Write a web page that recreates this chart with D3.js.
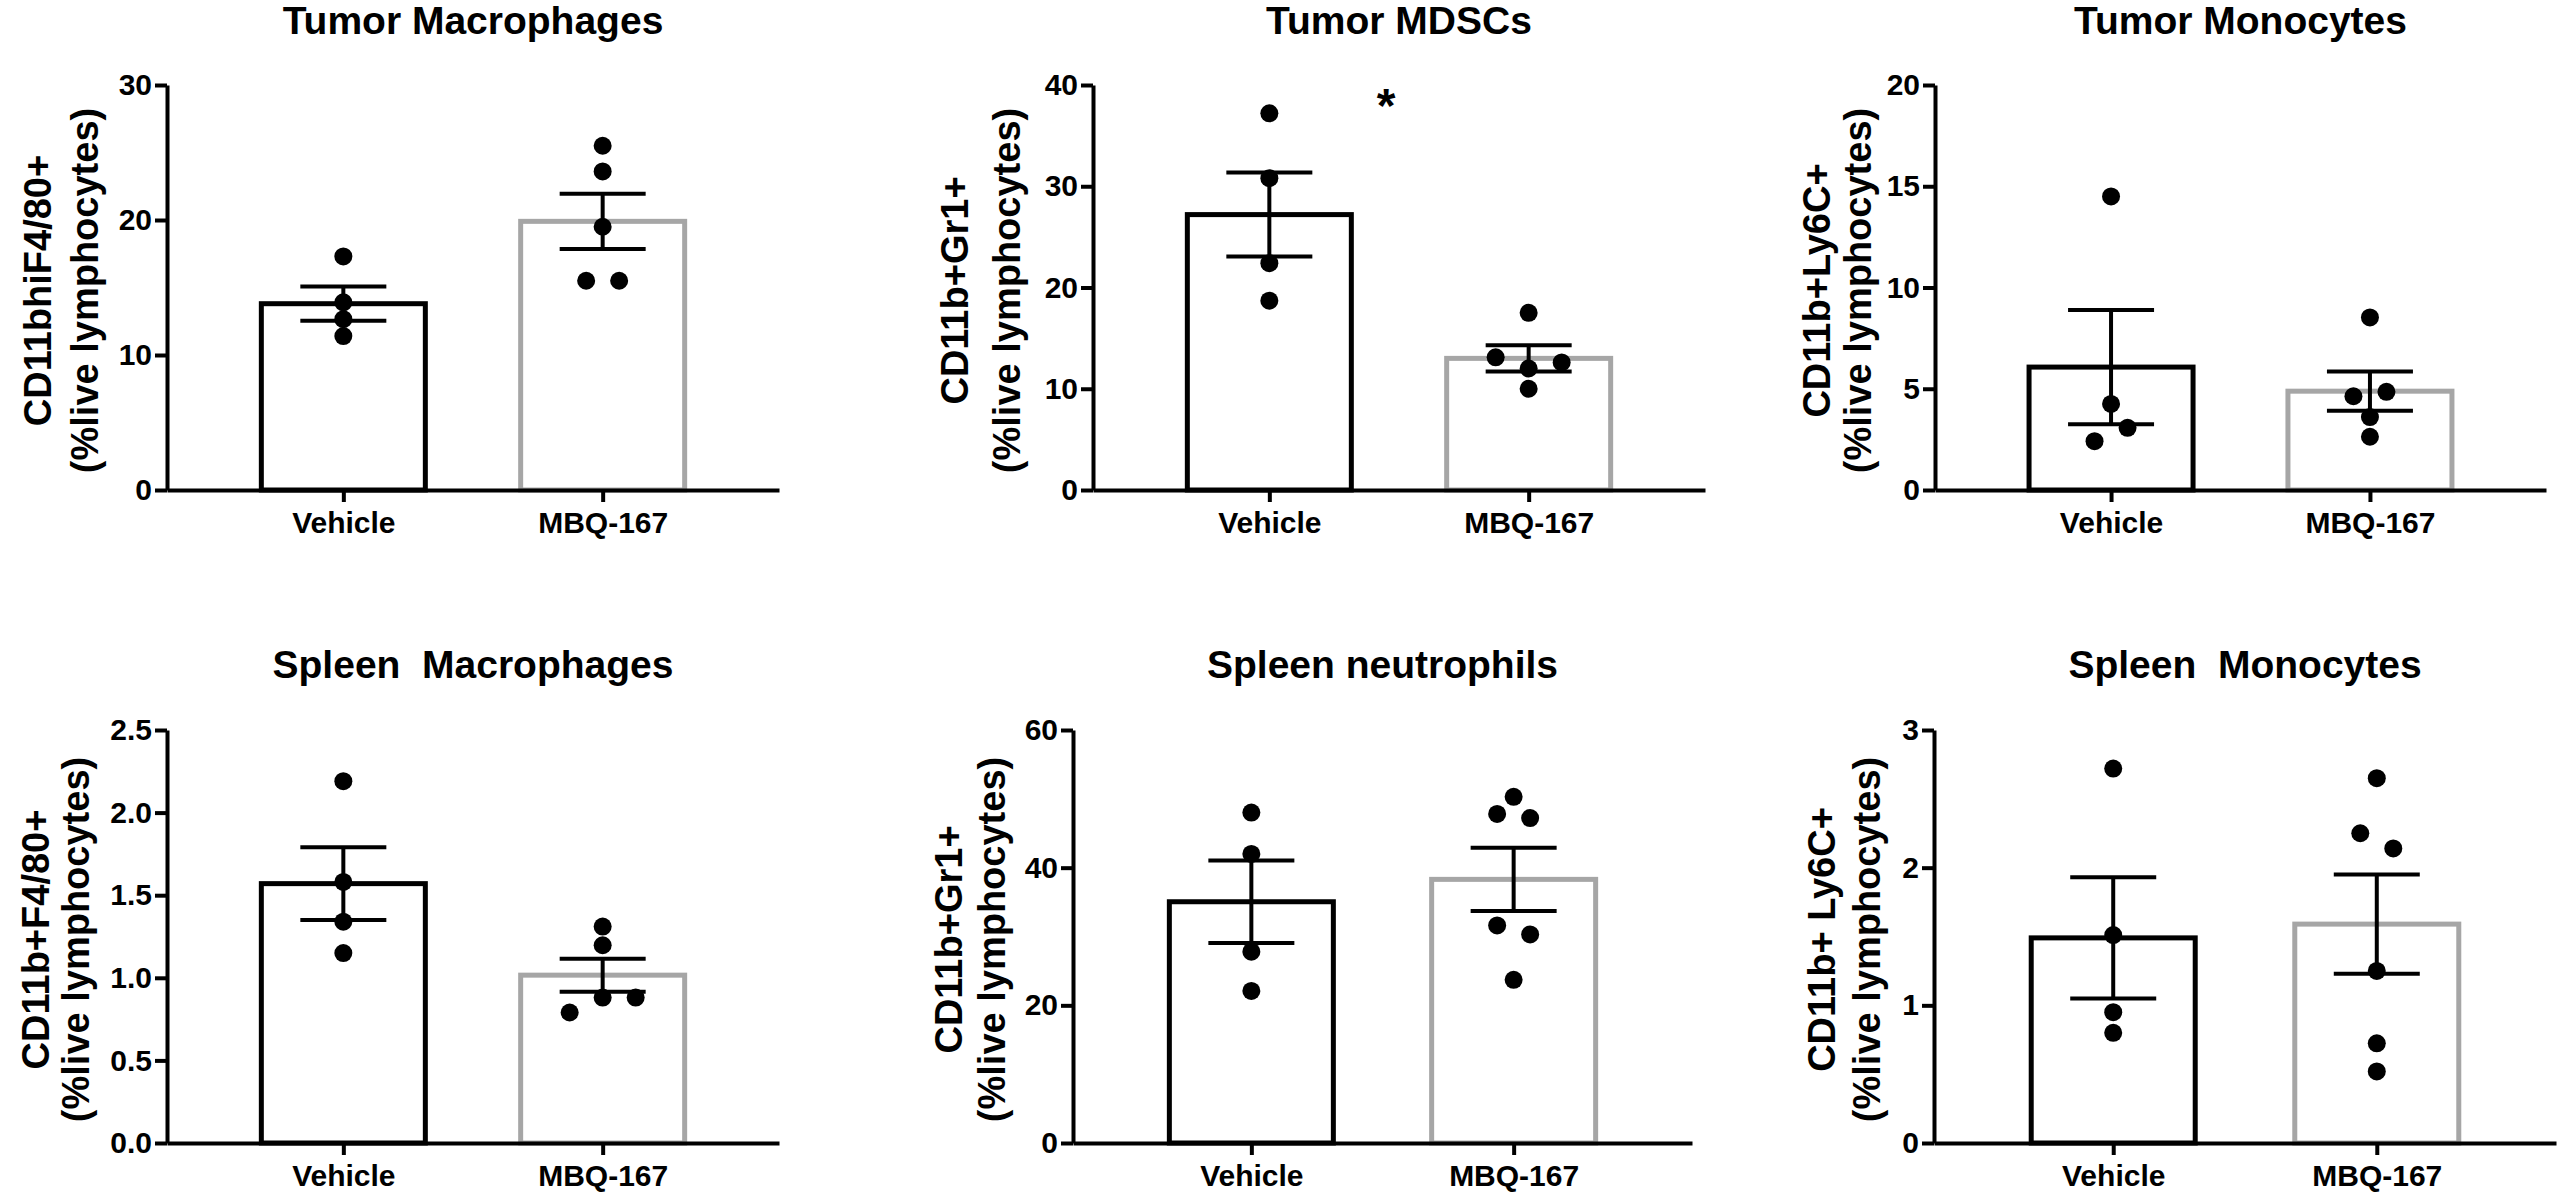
<!DOCTYPE html>
<meta charset="utf-8">
<script src="https://cdn.jsdelivr.net/npm/d3@7/dist/d3.min.js"></script>
<style>
  body { margin: 0; background: #fff; }
  text { font-family: "Liberation Sans", Arial, sans-serif; font-weight: bold; fill: #000; }
</style>
<body>
<div id="chart"></div>
<script>

// ---- data ----
var titles = ["Tumor Macrophages", "Tumor MDSCs", "Tumor Monocytes",
              "Spleen  Macrophages", "Spleen neutrophils", "Spleen  Monocytes"]
var yLabels = ["CD11bhiF4/80+", "CD11b+Gr1+", "CD11b+Ly6C+",
               "CD11b+F4/80+", "CD11b+Gr1+", "CD11b+ Ly6C+"]
var yLabel2 = "(%live lymphocytes)"
var groups = ["Vehicle", "MBQ-167"]
var yMax = [30, 40, 20, 2.5, 60, 3]
var yTicks = [[0, 10, 20, 30], [0, 10, 20, 30, 40], [0, 5, 10, 15, 20],
              [0, 0.5, 1, 1.5, 2, 2.5], [0, 20, 40, 60], [0, 1, 2, 3]]
var tickFormat = [",d", ",d", ",d", ".1f", ",d", ",d"]

var vehicleMean = [13.8, 27.2, 6.07, 1.57, 35.05, 1.49]
var vehicleSem  = [1.27, 4.15, 2.82, 0.22, 6.0, 0.44]
var mbqMean     = [19.9, 13.0, 4.88, 1.016, 38.3, 1.59]
var mbqSem      = [2.04, 1.3, 0.97, 0.10, 4.6, 0.36]

var vehiclePoints = [[17.3, 13.9, 12.65, 11.4],
                     [37.2, 30.8, 22.4, 18.7],
                     [14.5, 4.25, 3.07, 2.41],
                     [2.19, 1.58, 1.34, 1.15],
                     [48.0, 42.0, 27.8, 22.1],
                     [2.72, 1.51, 0.95, 0.80]]
var mbqPoints = [[25.5, 23.6, 19.5, 15.5, 15.5],
                 [17.5, 13.1, 12.6, 12.0, 10.0],
                 [8.52, 4.63, 4.85, 3.6, 2.63],
                 [1.31, 1.197, 0.88, 0.88, 0.79],
                 [50.3, 47.8, 47.2, 31.6, 30.3, 23.7],
                 [2.65, 2.25, 2.14, 1.25, 0.724, 0.52]]
// scatter column of each dot (GraphPad style side-by-side placement)
var vehicleSlots = [[0, 0, 0, 0], [0, 0, 0, 0], [0, 0, 1, -1],
                    [0, 0, 0, 0], [0, 0, 0, 0], [0, 0, 0, 0]]
var mbqSlots = [[0, 0, 0, -1, 1], [0, -2, 2, 0, 0], [0, -1, 1, 0, 0],
                [0, 0, 0, 2, -2], [0, -1, 1, -1, 1, 0], [0, -1, 1, 0, 0, 0]]

var sigPanel = 1, sigValue = 38

// ---- layout ----
var W = 2559, H = 1194
var axisX0 = [167, 1093, 1935, 167, 1073, 1934]
var axisX1 = [779, 1705, 2546, 779, 1692, 2556]
var rowTop = [85, 730]
var rowBase = [490, 1143]
var titleY = [34, 678]
// baselines of the two y-label lines, relative to the y axis
var label1Base = [-116, -125, -105, -118, -111, -99]
var label2Base = [-69, -73, -64, -78, -68, -54]
var barColor = ["#000000", "#a6a6a6"]
var slotW = 16.5

var svg = d3.select("#chart").append("svg")
  .attr("width", W).attr("height", H)

for (var p = 0; p < 6; p++) {
  var row = p < 3 ? 0 : 1
  var L = axisX1[p] - axisX0[p]
  var g = svg.append("g").attr("transform", "translate(" + axisX0[p] + ",0)")

  var x = d3.scalePoint().domain(groups).range([0, L]).padding(0.68).align(0.5)
  var y = d3.scaleLinear().domain([0, yMax[p]]).range([rowBase[row], rowTop[row]])
  var bw = 164

  // title
  g.append("text")
    .attr("x", L / 2).attr("y", titleY[row])
    .attr("text-anchor", "middle")
    .style("font-size", "39px")
    .style("white-space", "pre")
    .text(titles[p])

  // y label (two lines)
  var yc = (rowBase[row] + rowTop[row]) / 2 + 3
  g.append("text")
    .attr("transform", "translate(" + label1Base[p] + "," + yc + ") rotate(-90)")
    .attr("text-anchor", "middle")
    .style("font-size", "38px")
    .text(yLabels[p])
  g.append("text")
    .attr("transform", "translate(" + label2Base[p] + "," + yc + ") rotate(-90)")
    .attr("text-anchor", "middle")
    .style("font-size", "38px")
    .text(yLabel2)

  // bars
  var means = [vehicleMean[p], mbqMean[p]]
  var sems = [vehicleSem[p], mbqSem[p]]
  g.selectAll("rect.bar").data(groups).enter().append("rect")
    .attr("class", "bar")
    .attr("x", function(d) { return x(d) - bw / 2 })
    .attr("y", function(d, i) { return y(means[i]) })
    .attr("width", bw)
    .attr("height", function(d, i) { return y(0) - y(means[i]) })
    .attr("fill", "#fff")
    .attr("stroke", function(d, i) { return barColor[i] })
    .attr("stroke-width", 5)

  // axes
  var ya = d3.axisLeft(y).tickValues(yTicks[p]).tickSize(12).tickSizeOuter(0).tickPadding(3)
    .tickFormat(d3.format(tickFormat[p]))
  var gy = g.append("g").call(ya)
  var xa = d3.axisBottom(x).tickSize(12).tickSizeOuter(0).tickPadding(10)
  var gx = g.append("g").attr("transform", "translate(0," + rowBase[row] + ")").call(xa)
  ;[gx, gy].forEach(function(a) {
    a.select(".domain").attr("stroke-width", 4)
    a.selectAll(".tick line").attr("stroke-width", 4)
  })
  gy.selectAll(".tick text").style("font-size", "30px").attr("font-family", null)
  gx.selectAll(".tick text").style("font-size", "30px").attr("font-family", null)

  // dots
  var pts = [], slots = [vehicleSlots[p], mbqSlots[p]]
  ;[vehiclePoints[p], mbqPoints[p]].forEach(function(arr, gi) {
    arr.forEach(function(v, k) { pts.push({ g: groups[gi], v: v, s: slots[gi][k] }) })
  })
  g.selectAll("circle").data(pts).enter().append("circle")
    .attr("cx", function(d) { return x(d.g) + d.s * slotW })
    .attr("cy", function(d) { return y(d.v) })
    .attr("r", 9)
    .attr("fill", "#000")

  // error bars (mean +/- SEM)
  groups.forEach(function(gr, i) {
    var cx = x(gr), hi = y(means[i] + sems[i]), lo = y(means[i] - sems[i])
    g.append("line").attr("x1", cx).attr("x2", cx).attr("y1", hi).attr("y2", lo)
      .attr("stroke", "#000").attr("stroke-width", 4)
    ;[hi, lo].forEach(function(yy) {
      g.append("line").attr("x1", cx - 43).attr("x2", cx + 43).attr("y1", yy).attr("y2", yy)
        .attr("stroke", "#000").attr("stroke-width", 4)
    })
  })

  // significance mark
  if (p == sigPanel) {
    g.append("text")
      .attr("x", (x(groups[0]) + x(groups[1])) / 2 - 13)
      .attr("y", y(sigValue))
      .attr("text-anchor", "middle").attr("dy", "0.35em")
      .style("font-size", "48px")
      .text("*")
  }
}

</script>
</body>
